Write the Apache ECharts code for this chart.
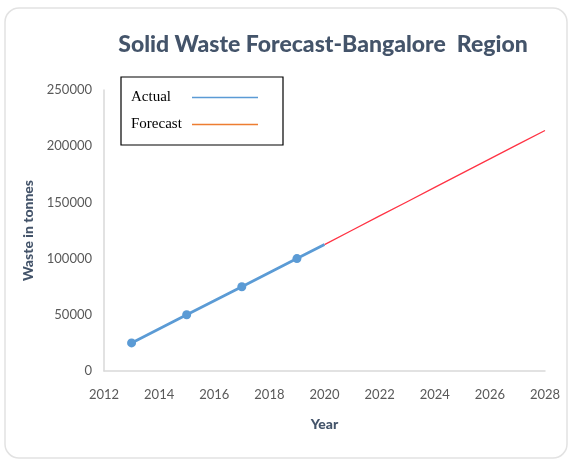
<!DOCTYPE html>
<html>
<head>
<meta charset="utf-8">
<script src="https://cdn.jsdelivr.net/npm/echarts@6/dist/echarts.min.js"></script>
<style>
  html, body { margin: 0; padding: 0; background: #fff; }
  #chart { width: 571px; height: 460px; }
</style>
</head>
<body>
<div id="chart"></div>
<script>
// actual waste (tonnes), markers on the odd years
const actualYears = [2013, 2015, 2017, 2019, 2020]
const actualValues = [25000, 50000, 75000, 100000, 112500]
const actualMarked = [true, true, true, true, false]

// forecast (tonnes)
const forecastYears = [2020, 2021, 2022, 2023, 2024, 2025, 2026, 2027, 2028]
const forecastValues = [112500, 125200, 138000, 150600, 163300, 176000, 188700, 201400, 214000]

const yearTicks = { min: 2012, max: 2028, step: 2 }
const wasteTicks = { min: 0, max: 250000, step: 50000 }

const chart = echarts.init(document.getElementById('chart'))

chart.setOption({
  backgroundColor: '#fff',
  animation: false,
  graphic: [
    {
      type: 'rect',
      shape: { x: 5, y: 8, width: 562, height: 450, r: 14 },
      style: { fill: 'none', stroke: '#e2e2e2', lineWidth: 1.5 },
      silent: true,
    },
  ],
  title: {
    text: 'Solid Waste Forecast-Bangalore  Region',
    left: 318,
    textAlign: 'center',
    top: 28,
    textStyle: { fontFamily: 'Lato', fontWeight: 900, fontSize: 23, color: '#44546A' },
  },
  legend: {
    left: 121,
    top: 77,
    orient: 'vertical',
    align: 'right',
    padding: [13, 25, 13, 10],
    itemGap: 12,
    itemWidth: 66,
    itemHeight: 1.5,
    borderColor: '#000',
    borderWidth: 1.2,
    formatter: name => '{t|' + name + '}',
    textStyle: {
      fontFamily: 'Liberation Serif', fontSize: 15, color: '#000',
      rich: { t: { width: 56, align: 'left', fontFamily: 'Liberation Serif', fontSize: 15, color: '#000' } },
    },
    data: [
      { name: 'Actual', icon: 'rect', itemStyle: { color: '#5B9BD5' } },
      { name: 'Forecast', icon: 'rect', itemStyle: { color: '#ED7D31' } },
    ],
  },
  grid: { left: 104, right: 26, top: 90, bottom: 89 },
  xAxis: {
    type: 'value',
    min: yearTicks.min,
    max: yearTicks.max,
    interval: yearTicks.step,
    name: 'Year',
    nameLocation: 'middle',
    nameGap: 46,
    nameTextStyle: { fontFamily: 'Lato', fontWeight: 900, fontSize: 14, color: '#44546A' },
    axisLine: { lineStyle: { color: '#d9d9d9', width: 1.5 } },
    axisTick: { show: false },
    splitLine: { show: false },
    axisLabel: { color: '#595959', fontFamily: 'Lato', fontSize: 13, margin: 17, formatter: v => String(v) },
  },
  yAxis: {
    type: 'value',
    min: wasteTicks.min,
    max: wasteTicks.max,
    interval: wasteTicks.step,
    name: 'Waste in tonnes',
    nameLocation: 'middle',
    nameGap: 59,
    nameRotate: 90,
    nameTextStyle: { fontFamily: 'Lato', fontWeight: 900, fontSize: 14, color: '#44546A' },
    axisLine: { show: true, lineStyle: { color: '#d9d9d9', width: 1.5 } },
    axisTick: { show: false },
    splitLine: { show: false },
    axisLabel: { color: '#595959', fontFamily: 'Lato', fontSize: 13, margin: 12, formatter: v => String(v) },
  },
  series: [
    {
      name: 'Forecast',
      type: 'line',
      data: forecastYears.map((y, i) => [y, forecastValues[i]]),
      symbol: 'none',
      lineStyle: { color: '#FF3344', width: 1.3 },
      itemStyle: { color: '#FF3344' },
      z: 2,
    },
    {
      name: 'Actual',
      type: 'line',
      data: actualYears.map((y, i) => ({
        value: [y, actualValues[i]],
        symbol: actualMarked[i] ? 'circle' : 'none',
      })),
      symbolSize: 9,
      lineStyle: { color: '#5B9BD5', width: 2.8 },
      itemStyle: { color: '#5B9BD5' },
      z: 3,
    },
  ],
})
</script>
</body>
</html>
